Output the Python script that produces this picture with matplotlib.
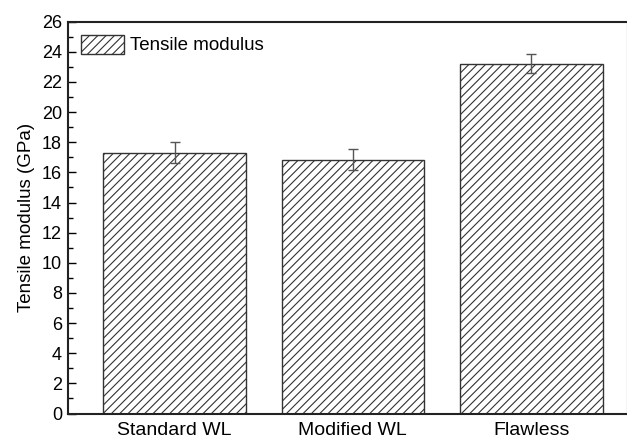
import matplotlib
matplotlib.use("Agg")
import matplotlib.pyplot as plt
from matplotlib.ticker import MultipleLocator

categories = ["Standard WL", "Modified WL", "Flawless"]
values = [17.3, 16.85, 23.2]
errors = [0.7, 0.72, 0.63]

plt.rcParams['font.family'] = ['Liberation Sans', 'DejaVu Sans']
plt.rcParams['hatch.linewidth'] = 0.8
plt.rcParams['hatch.color'] = '#333333'

W, H = 627, 440
fig = plt.figure(figsize=(W/100, H/100), dpi=100)
ax = fig.add_axes([67.5/W, 1 - 413.5/H, (627.5 - 67.5)/W, (413.5 - 21.7)/H])

x = [1, 2, 3]
ax.bar(x, values, width=0.8, facecolor='white', edgecolor='#333333',
       linewidth=1.0, hatch='////', label='Tensile modulus', zorder=2)
ax.errorbar(x, values, yerr=errors, fmt='none', ecolor='#555555',
            elinewidth=1.0, capsize=3.5, capthick=1.0, zorder=3)

ax.set_xlim(0.4, 3.54)
ax.set_ylim(0, 26)
ax.set_xticks(x)
ax.set_xticklabels(categories)
ax.yaxis.set_major_locator(MultipleLocator(2))
ax.yaxis.set_minor_locator(MultipleLocator(1))
ax.tick_params(axis='y', which='major', direction='in', length=6, width=1, labelsize=13, pad=4)
ax.tick_params(axis='y', which='minor', direction='in', length=3.5, width=1)
ax.tick_params(axis='x', which='both', length=0, labelsize=14, pad=6)
ax.set_ylabel('Tensile modulus (GPa)', fontsize=13.5, labelpad=5)

for s in ax.spines.values():
    s.set_linewidth(1.5)
    s.set_color('#222222')

ax.legend(loc='upper left', frameon=False, fontsize=13.5, handlelength=2.3,
          handleheight=1.2, borderaxespad=0.2, handletextpad=0.3,
          bbox_to_anchor=(0.004, 0.996))

fig.savefig('out.png', dpi=100)
